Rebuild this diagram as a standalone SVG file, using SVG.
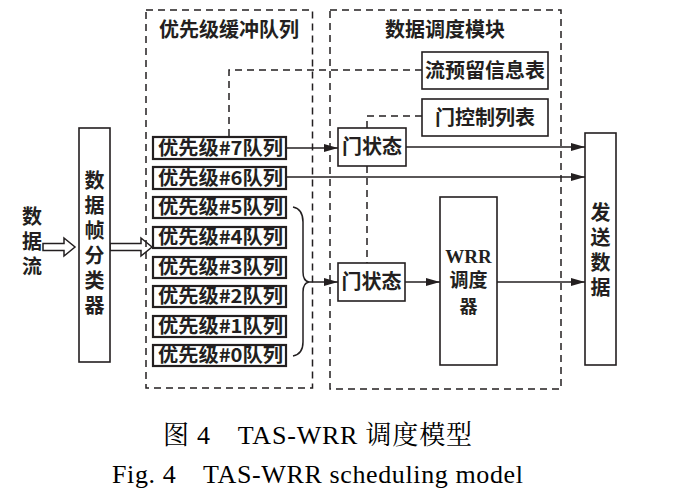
<svg xmlns="http://www.w3.org/2000/svg" width="681" height="497" viewBox="0 0 681 497">
<defs>
<marker id="ah" markerWidth="14" markerHeight="8" refX="14" refY="4" orient="auto" markerUnits="userSpaceOnUse">
<path d="M0,0 L14,4 L0,8 Z" fill="#231f20"/>
</marker>
<style>
.t{font-family:"Noto Sans CJK SC","Liberation Sans",sans-serif;font-size:20px;fill:#231f20;font-weight:bold}
.v{font-family:"Noto Sans CJK SC","Liberation Sans",sans-serif;font-size:20px;fill:#231f20;font-weight:bold;writing-mode:vertical-rl;letter-spacing:5px}
.q{font-family:"Noto Sans CJK SC","Liberation Sans",sans-serif;font-size:19px;fill:#231f20;font-weight:bold}
.box{fill:#fff;stroke:#231f20;stroke-width:1.6}
.qb{fill:#fff;stroke:#231f20;stroke-width:2.2}
.dash{fill:none;stroke:#231f20;stroke-width:1.5;stroke-dasharray:7 5}
.ln{fill:none;stroke:#231f20;stroke-width:1.5}
.cap{font-family:"Liberation Serif","Noto Serif CJK SC","Noto Sans CJK SC",serif;font-size:26px;fill:#000}
</style>
</defs>
<rect width="681" height="497" fill="#fff"/>

<g id="buffer-region">
<rect class="dash" x="146" y="10" width="166.5" height="378"/>
<text class="t" x="229" y="37" text-anchor="middle">优先级缓冲队列</text>
</g>
<g id="scheduler-region">
<rect class="dash" x="330" y="10" width="231" height="379"/>
<text class="t" x="445" y="37" text-anchor="middle">数据调度模块</text>
</g>

<g id="connectors">
<path class="dash" d="M422,70 H229 V137"/>
<path class="dash" d="M422,116 H367 V128"/>
<path class="dash" d="M367,166 V263"/>
<path class="ln" d="M286,148 H338" marker-end="url(#ah)"/>
<path class="ln" d="M406,147 H585" marker-end="url(#ah)"/>
<path class="ln" d="M286,177 H585" marker-end="url(#ah)"/>
<path class="ln" d="M293,207 Q303,209 303,222 V272 Q303,281 309,282 Q303,283 303,292 V342 Q303,354 293,356"/>
<path class="ln" d="M309,282 H338" marker-end="url(#ah)"/>
<path class="ln" d="M405,282 H440" marker-end="url(#ah)"/>
<path class="ln" d="M497,282 H585" marker-end="url(#ah)"/>
<path class="ln" d="M43,243.5 H64 V238 L75,247 L64,256 V250.5 H43 Z" fill="#fff"/>
<path class="ln" d="M110,243.5 H141 V238 L152,247 L141,256 V250.5 H110 Z" fill="#fff"/>
</g>

<g id="data-flow">
<text class="v" x="32" y="206">数据流</text>
</g>

<g id="classifier">
<rect class="box" x="79" y="128" width="31" height="234"/>
<text class="v" x="94.5" y="170">数据帧分类器</text>
</g>

<g id="queue7"><rect class="qb" x="153" y="137" width="133" height="22"/><text class="q" x="220.5" y="155" text-anchor="middle" textLength="125" lengthAdjust="spacingAndGlyphs">优先级#7队列</text></g>
<g id="queue6"><rect class="qb" x="153" y="167" width="133" height="22"/><text class="q" x="220.5" y="185" text-anchor="middle" textLength="125" lengthAdjust="spacingAndGlyphs">优先级#6队列</text></g>
<g id="queue5"><rect class="qb" x="153" y="197" width="133" height="21"/><text class="q" x="220.5" y="214" text-anchor="middle" textLength="125" lengthAdjust="spacingAndGlyphs">优先级#5队列</text></g>
<g id="queue4"><rect class="qb" x="153" y="227" width="133" height="21"/><text class="q" x="220.5" y="244" text-anchor="middle" textLength="125" lengthAdjust="spacingAndGlyphs">优先级#4队列</text></g>
<g id="queue3"><rect class="qb" x="153" y="257" width="133" height="21"/><text class="q" x="220.5" y="274" text-anchor="middle" textLength="125" lengthAdjust="spacingAndGlyphs">优先级#3队列</text></g>
<g id="queue2"><rect class="qb" x="153" y="286" width="133" height="21"/><text class="q" x="220.5" y="303" text-anchor="middle" textLength="125" lengthAdjust="spacingAndGlyphs">优先级#2队列</text></g>
<g id="queue1"><rect class="qb" x="153" y="316" width="133" height="21"/><text class="q" x="220.5" y="333" text-anchor="middle" textLength="125" lengthAdjust="spacingAndGlyphs">优先级#1队列</text></g>
<g id="queue0"><rect class="qb" x="153" y="345" width="133" height="21"/><text class="q" x="220.5" y="362" text-anchor="middle" textLength="125" lengthAdjust="spacingAndGlyphs">优先级#0队列</text></g>

<g id="flow-table">
<rect class="box" x="422" y="52" width="126" height="37"/>
<text class="t" x="485" y="78" text-anchor="middle">流预留信息表</text>
</g>
<g id="gate-control-list">
<rect class="box" x="422" y="99" width="126" height="37"/>
<text class="t" x="485" y="125" text-anchor="middle">门控制列表</text>
</g>
<g id="gate-state-1">
<rect class="box" x="338" y="128" width="68" height="38"/>
<text class="t" x="372" y="154" text-anchor="middle">门状态</text>
</g>
<g id="gate-state-2">
<rect class="box" x="338" y="263" width="67" height="38"/>
<text class="t" x="371.5" y="289" text-anchor="middle">门状态</text>
</g>
<g id="wrr">
<rect class="box" x="440" y="197" width="57" height="168"/>
<text x="468.5" y="263" text-anchor="middle" style="font-family:'Liberation Serif',serif;font-size:19px;font-weight:bold;fill:#231f20">WRR</text>
<text class="v" x="468.5" y="272" style="font-size:19px;letter-spacing:0;writing-mode:horizontal-tb" text-anchor="middle"><tspan x="468.5" dy="15">调度</tspan></text>
<text class="t" x="468.5" y="313" text-anchor="middle" style="font-size:18px">器</text>
</g>
<g id="send-data">
<rect class="box" x="585" y="133" width="31" height="232"/>
<text class="v" x="600.5" y="202">发送数据</text>
</g>

<g id="caption">
<text class="cap" x="163" y="444" textLength="309" lengthAdjust="spacing">图 4　TAS-WRR 调度模型</text>
<text class="cap" x="112" y="483" textLength="411" lengthAdjust="spacing">Fig. 4　TAS-WRR scheduling model</text>
</g>
</svg>
